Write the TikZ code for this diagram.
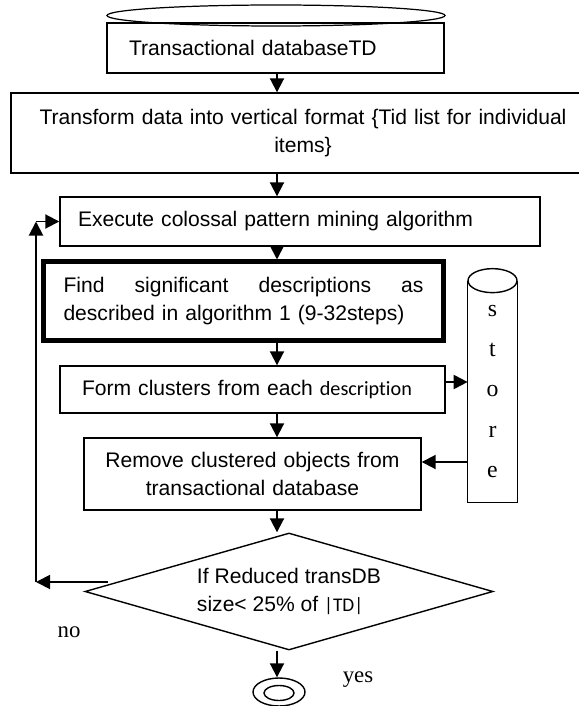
\documentclass[tikz,border=0pt]{standalone}
\usepackage{fontspec}
\setmainfont{Liberation Sans}
\newfontfamily\storefont{Liberation Serif}
\newfontfamily\calfont[Ligatures=NoCommon]{Carlito}
\usetikzlibrary{positioning,arrows.meta,shapes.geometric}
\tikzset{
  box/.style={draw=black, line width=0.8pt, fill=white, inner ysep=0pt,
              font=\fontsize{12}{15.9}\selectfont},
  keybox/.style={box, line width=2.3pt},
  lid/.style={ellipse, draw=black, line width=0.8pt, fill=white, inner sep=0pt},
  flow/.style={-{Triangle[length=2.8mm, width=2.8mm]}, line width=1.1pt, draw=black},
  lbl/.style={font=\storefont\fontsize{13}{15}\selectfont},
  letters/.style={font=\storefont\fontsize{13.5}{23}\selectfont, align=center, inner sep=0pt},
}

\begin{document}
\begin{tikzpicture}
  \useasboundingbox (0,0) rectangle (11.58,-14.12);
  \coordinate (axis) at (5.54,0);

  % ------------------------------------------------ input and preparation
  \node[box, line width=0.7pt, minimum width=6.74cm, minimum height=1cm, text width=5.86cm,
        inner xsep=0.44cm, align=left] (tdb) at (5.51,-0.96) {Transactional databaseTD};
  \node[lid, line width=0.7pt, fill=none, minimum width=6.76cm, minimum height=0.42cm] (tdbtop)
    at (5.52,-0.31) {};

  \node[box, minimum width=11.68cm, minimum height=1.6cm, text width=11.28cm, inner xsep=0.2cm,
        align=center] (vert) at (6.06,-2.66)
    {Transform data into vertical format \{Tid list for individual\\ items\}};

  % ------------------------------------------------ mining steps
  \node[box, minimum width=9.6cm, minimum height=0.98cm, text width=8.88cm, inner xsep=0.36cm,
        align=left] (colossal) at (6.0,-4.43) {Execute colossal pattern mining algorithm};
  \node[keybox, minimum width=8cm, minimum height=1.58cm, text width=7.2cm, inner xsep=0.4cm,
        align=left] (sig) at (4.87,-6.02)
    {Find\hfill significant\hfill descriptions\hfill as\\ described in algorithm 1 (9-32steps)};
  \node[box, minimum width=7.7cm, minimum height=0.94cm, text width=6.82cm, inner xsep=0.44cm,
        align=left] (clus) at (5.05,-7.79)
    {Form clusters from each {\calfont\fontsize{11.5}{14}\selectfont description}};
  \node[box, minimum width=6.74cm, minimum height=1.44cm, text width=6.34cm, inner xsep=0.2cm,
        align=center] (remove) at (5.05,-9.48)
    {Remove clustered objects from\\ transactional database};

  % ------------------------------------------------ store
  \node[letters, minimum width=0.98cm, minimum height=4.42cm] (store) at (9.85,-7.83)
    {s\\ t\\ o\\ r\\ e};
  \draw[line width=0.8pt] (store.north west) -- (store.south west) -- (store.south east)
    -- (store.north east);
  \node[lid, minimum width=0.98cm, minimum height=0.48cm] (storetop) at (store.north) {};

  % ------------------------------------------------ decision and end
  \node[box, diamond, aspect=3.5, minimum width=8.16cm, minimum height=2.34cm, inner sep=0pt,
        align=left] (check) at (5.78,-11.83)
    {If Reduced transDB\\ size< 25\% of {\calfont\fontsize{11}{12}\selectfont |TD|}};

  \node[lid, minimum width=1.04cm, minimum height=0.56cm] (stop) at (5.58,-13.84) {};
  \node[lid, minimum width=0.6cm, minimum height=0.3cm] (stopin) at (5.58,-13.86) {};

  \node[lbl] (yes) at (7.16,-13.6) {yes};
  \node[lbl] (no) at (1.38,-12.64) {no};

  % ------------------------------------------------ main flow
  \draw[flow] (tdb.south -| axis) -- (vert.north -| axis);
  \draw[flow] (vert.south -| axis) -- (colossal.north -| axis);
  \draw[flow] (colossal.south -| axis) -- (sig.north -| axis);
  \draw[flow] (sig.south -| axis) -- (clus.north -| axis);
  \draw[flow] (clus.south -| axis) -- (remove.north -| axis);
  \draw[flow] (remove.south -| axis) -- (check.north -| axis);
  \draw[flow] (check.south -| axis) -- (stop.north -| axis);

  \draw[flow] ([yshift=0.15cm]clus.east) -- ([yshift=0.15cm]clus.east -| store.west);
  \draw[flow] ([yshift=0.24cm]remove.east -| store.west) -- ([yshift=0.24cm]remove.east);

  % ------------------------------------------------ loop back when too large
  \coordinate (nofrom) at (2.16,-11.64);
  \coordinate (nobend) at (0.72,-11.64);
  \coordinate (loopin) at (nobend |- colossal.west);
  \draw[flow] (nofrom) -- (nobend);
  \draw[flow] (nobend) -- (loopin);
  \draw[flow] (loopin) -- (colossal.west);
\end{tikzpicture}
\end{document}
